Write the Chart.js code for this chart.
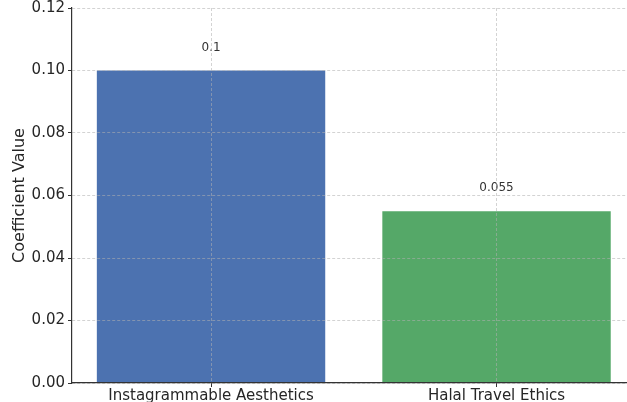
<!DOCTYPE html>
<html>
<head>
<meta charset="utf-8">
<script src="https://cdn.jsdelivr.net/npm/chart.js@4.4.1/dist/chart.umd.min.js"></script>
<style>
  html, body { margin: 0; padding: 0; background: #fff; }
  #wrap { width: 627px; height: 402px; }
</style>
</head>
<body>
<div id="wrap"><canvas id="coefChart" width="627" height="402"></canvas></div>
<script>
const categories = ["Instagrammable Aesthetics", "Halal Travel Ethics"];
const coefficients = [0.1, 0.055];
const valueLabels = ["0.1", "0.055"];
const barColors = ["#4C72B0", "#55A868"];
const yTicks = [0, 0.02, 0.04, 0.06, 0.08, 0.1, 0.12];

const fontFamily = "'DejaVu Sans', sans-serif";
const gridColor = "rgba(176, 176, 176, 0.7)";
const axisColor = "#333333";
const textColor = "#262626";

// numbers written above each bar
const valueLabelPlugin = {
  id: "valueLabels",
  afterDatasetsDraw(chart) {
    const ctx = chart.ctx;
    const meta = chart.getDatasetMeta(0);
    ctx.save();
    ctx.font = "12px " + fontFamily;
    ctx.fillStyle = "#333333";
    ctx.textAlign = "center";
    ctx.textBaseline = "middle";
    meta.data.forEach((bar, i) => {
      ctx.fillText(valueLabels[i], bar.x, bar.y - 23);
    });
    ctx.restore();
  },
};

const ctx = document.getElementById("coefChart").getContext("2d");
new Chart(ctx, {
  type: "bar",
  data: {
    datasets: [
      {
        data: categories.map((c, i) => ({ x: i, y: coefficients[i] })),
        backgroundColor: barColors,
        borderWidth: 0,
        categoryPercentage: 1,
        barPercentage: 0.8,
      },
    ],
  },
  options: {
    responsive: false,
    animation: false,
    devicePixelRatio: 1,
    layout: { padding: { top: 0, right: 0, bottom: 0, left: 0 } },
    plugins: {
      legend: { display: false },
      tooltip: { enabled: false },
    },
    scales: {
      x: {
        type: "linear",
        min: -0.487,
        max: 1.457,
        offset: false,
        afterBuildTicks: (scale) => {
          scale.ticks = categories.map((c, i) => ({ value: i }));
        },
        afterFit: (scale) => {
          scale.height = 19;
        },
        grid: {
          z: 1,
          offset: false,
          color: gridColor,
          lineWidth: 0.8,
          drawTicks: true,
          tickLength: 4,
          tickColor: axisColor,
          tickWidth: 1,
          tickBorderDash: [],
        },
        border: { display: true, color: axisColor, width: 1.2, dash: [3, 2], z: 2 },
        ticks: {
          autoSkip: false,
          maxRotation: 0,
          padding: 0,
          color: textColor,
          font: { family: fontFamily, size: 15 },
          callback: (v) => categories[v],
        },
      },
      y: {
        min: 0,
        max: 0.12,
        afterBuildTicks: (scale) => {
          scale.ticks = yTicks.map((v) => ({ value: v }));
        },
        afterFit: (scale) => {
          scale.width = 72;
          scale.paddingTop = 8;
          scale.paddingBottom = 0;
        },
        grid: {
          z: 1,
          color: gridColor,
          lineWidth: 0.8,
          drawTicks: true,
          tickLength: 4,
          tickColor: axisColor,
          tickWidth: 1,
          tickBorderDash: [],
        },
        border: { display: true, color: axisColor, width: 1.2, dash: [3, 2], z: 2 },
        ticks: {
          padding: 3,
          color: textColor,
          font: { family: fontFamily, size: 15 },
          callback: (v) => v.toFixed(2),
        },
        title: {
          display: true,
          text: "Coefficient Value",
          color: textColor,
          font: { family: fontFamily, size: 16 },
          padding: { top: 10, bottom: 0 },
        },
      },
    },
  },
  plugins: [valueLabelPlugin],
});
</script>
</body>
</html>
